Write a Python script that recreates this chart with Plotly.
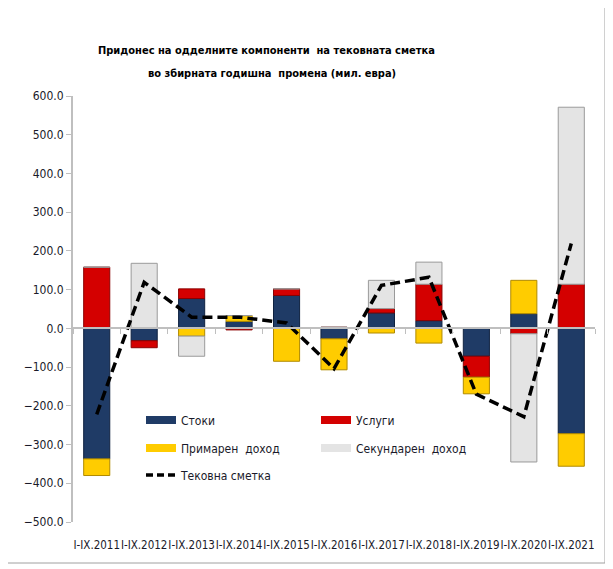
import plotly.graph_objects as go

categories = ["I-IX.2011", "I-IX.2012", "I-IX.2013", "I-IX.2014", "I-IX.2015", "I-IX.2016",
              "I-IX.2017", "I-IX.2018", "I-IX.2019", "I-IX.2020", "I-IX.2021"]
stoki = [-337, -32, 77, 18, 85, -27, 40, 20, -72, 38, -272]
uslugi = [158, -18, 25, -4, 17, 3, 11, 94, -54, -14, 114]
primaren = [-43, 0, -20, 15, -85, -80, -12, -38, -43, 86, -84]
sekundaren = [0, 168, -52, 0, 0, 0, 73, 57, 0, -331, 457]
tekovna = [-222, 119, 29, 29, 14, -104, 111, 132, -170, -228, 219]
y_ticks = [-500, -400, -300, -200, -100, 0, 100, 200, 300, 400, 500, 600]

FONT = "DejaVu Sans Condensed, DejaVu Sans, sans-serif"
TXT = "#1a1a2a"
NAVY, RED, YEL, GRY = "#1F3B66", "#D40000", "#FFCC00", "#E4E4E4"

series = [
    ("Стоки", stoki, NAVY, "#0f2240"),
    ("Услуги", uslugi, RED, "#8a0000"),
    ("Примарен\u00a0 доход", primaren, YEL, "#b08a00"),
    ("Секундарен\u00a0 доход", sekundaren, GRY, "#9a9a9a"),
]

fig = go.Figure()
for name, vals, col, lc in series:
    fig.add_trace(go.Bar(x=categories, y=vals, name=name, showlegend=False,
                         marker=dict(color=col, line=dict(color=lc, width=1))))

fig.add_trace(go.Scatter(x=categories, y=tekovna, mode="lines", xaxis="x2", showlegend=False,
                         line=dict(color="black", width=3.5, dash="10px,5px")))

# legend entries (wide flat symbols like the original)
legend_rows = ["legend", "legend", "legend2", "legend2"]
for (name, vals, col, lc), lg in zip(series, legend_rows):
    fig.add_trace(go.Scatter(x=[None], y=[None], mode="lines", name=name, legend=lg,
                             line=dict(color=col, width=8)))
fig.add_trace(go.Scatter(x=[None], y=[None], mode="lines", name="Тековна сметка", legend="legend3",
                         line=dict(color="black", width=3.5, dash="7px,4px")))

# page has an 8px body margin: screen pixel p -> paper fraction
def py(p):
    return (522 - p) / 426.0

def px(p):
    return (p - 73) / 522.0

leg_common = dict(orientation="h", xanchor="left", yanchor="middle", x=px(141),
                  entrywidth=130, font=dict(family=FONT, size=12, color=TXT),
                  bgcolor="rgba(0,0,0,0)", itemwidth=30)

fig.update_layout(
    width=605, height=561,
    margin=dict(l=65, r=18, t=88, b=47),
    paper_bgcolor="white", plot_bgcolor="white",
    barmode="relative", bargap=0.45,
    font=dict(family=FONT, color=TXT),
    legend=dict(leg_common, y=py(420)),
    legend2=dict(leg_common, y=py(448)),
    legend3=dict(leg_common, y=py(475)),
    yaxis=dict(range=[-500, 600], tickvals=y_ticks, tickformat=".1f",
               showgrid=False, zeroline=False, showline=True, linecolor="#BFBFBF", linewidth=2,
               ticks="outside", ticklen=5, tickcolor="#BFBFBF",
               tickfont=dict(family=FONT, size=12, color=TXT)),
    xaxis=dict(type="category", range=[-0.5, 10.5], showgrid=False, showline=False,
               ticks="", tickangle=0, ticklabelstandoff=14,
               tickfont=dict(family=FONT, size=11.5, color=TXT)),
    xaxis2=dict(type="category", range=[-0.5, 10.5], overlaying="x", anchor="free",
                position=500 / 1100, side="bottom", showgrid=False,
                showline=True, linecolor="#BFBFBF", linewidth=2,
                ticks="outside", ticklen=5, tickcolor="#BFBFBF", tickson="boundaries",
                showticklabels=False),
    annotations=[
        dict(text="<b>Придонес на одделните компоненти  на тековната сметка</b>",
             x=px(266), y=py(50), xref="paper", yref="paper", showarrow=False,
             xanchor="center", yanchor="middle", font=dict(family=FONT, size=11, color="black")),
        dict(text="<b>во збирната годишна  промена (мил. евра)</b>",
             x=px(272), y=py(73), xref="paper", yref="paper", showarrow=False,
             xanchor="center", yanchor="middle", font=dict(family=FONT, size=11, color="black")),
    ],
    shapes=[dict(type="rect", xref="paper", yref="paper",
                 x0=px(7), x1=px(605), y0=py(563), y1=py(-3),
                 line=dict(color="#A0A0A0", width=1), fillcolor="rgba(0,0,0,0)", layer="below")],
)

fig.write_html("out.html")
